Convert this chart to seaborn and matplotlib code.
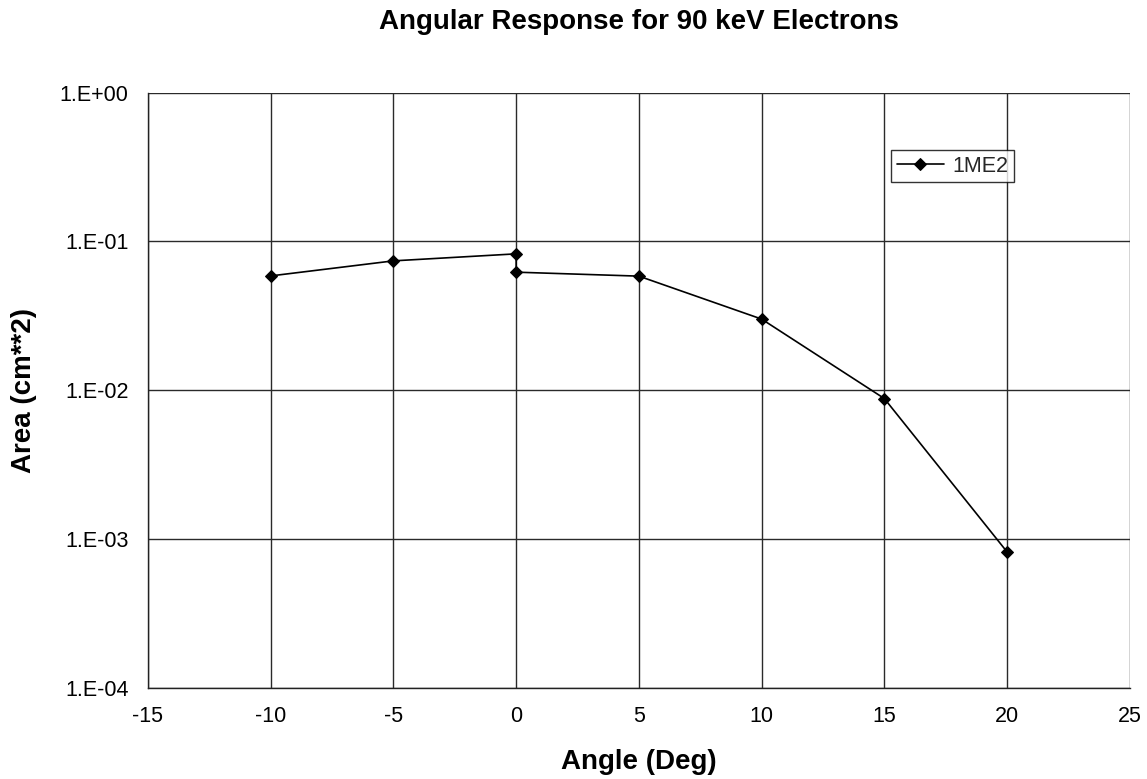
import numpy as np
import pandas as pd
import matplotlib
matplotlib.use("Agg")
import matplotlib.pyplot as plt
import seaborn as sns
from matplotlib.ticker import FixedLocator, FuncFormatter, NullLocator

# Angular response data for detector 1ME2
angle_deg = [-10, -5, 0, 0, 5, 10, 15, 20]
area_cm2 = [0.0587, 0.0741, 0.0826, 0.0622, 0.0585, 0.0301, 0.0088, 0.00082]
series_name = "1ME2"

x_ticks = [-15, -10, -5, 0, 5, 10, 15, 20, 25]
y_ticks = [1e-4, 1e-3, 1e-2, 1e-1, 1e0]

df = pd.DataFrame({"Angle": angle_deg, "Area": area_cm2, "Detector": series_name})

sns.set_theme(style="white")
plt.rcParams["font.family"] = ["Liberation Sans", "DejaVu Sans"]

fig = plt.figure(figsize=(11.47, 7.79), dpi=100)
ax = fig.add_axes([0.129, 0.117, 0.856, 0.764])

sns.lineplot(data=df, x="Angle", y="Area", hue="Detector", palette=["black"],
             sort=False, estimator=None, marker="D", markersize=6.5,
             markeredgecolor="black", linewidth=1.2, ax=ax)

ax.set_yscale("log")
ax.set_xlim(-15, 25)
ax.set_ylim(1e-4, 1e0)
ax.xaxis.set_major_locator(FixedLocator(x_ticks))
ax.yaxis.set_major_locator(FixedLocator(y_ticks))
ax.yaxis.set_minor_locator(NullLocator())
ax.yaxis.set_major_formatter(FuncFormatter(lambda v, p: f"1.E{int(round(np.log10(v))):+03d}"))
ax.xaxis.set_major_formatter(FuncFormatter(lambda v, p: f"{int(v)}"))

ax.grid(True, which="major", color="#2a2a2a", linewidth=1.0)
ax.set_axisbelow(True)
for side in ["top", "right"]:
    ax.spines[side].set_visible(False)
for side in ["left", "bottom"]:
    ax.spines[side].set_color("#222222")
    ax.spines[side].set_linewidth(1.0)

ax.tick_params(axis="both", which="major", direction="out", length=5, width=1,
               color="#222222", labelsize=15.5, labelcolor="black")
ax.tick_params(axis="x", pad=8)
ax.tick_params(axis="y", pad=9)

ax.set_xlabel("Angle (Deg)", fontsize=20, fontweight="bold", labelpad=16,
              color="black")
ax.set_ylabel("Area (cm**2)", fontsize=20, fontweight="bold", labelpad=16,
              color="black")
ax.set_title("Angular Response for 90 keV Electrons", fontsize=20,
             fontweight="bold", pad=46, color="black")

leg = ax.legend(loc="upper left", bbox_to_anchor=(0.757, 0.903), frameon=True,
                fancybox=False, fontsize=15.5, handlelength=2.2,
                borderpad=0.25, handletextpad=0.4, borderaxespad=0)
leg.get_frame().set_edgecolor("black")
leg.get_frame().set_linewidth(1.0)

fig.savefig("out.png", dpi=100, facecolor="white")
